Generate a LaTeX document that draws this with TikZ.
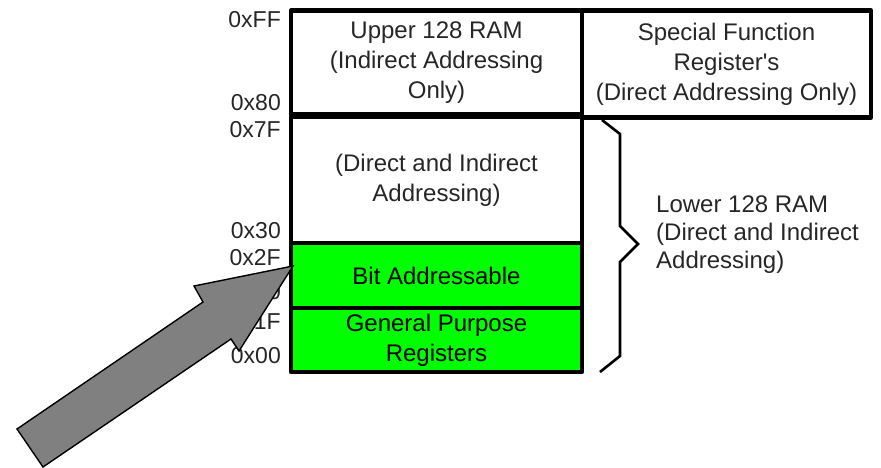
\documentclass[tikz,border=0pt]{standalone}
\usepackage{fontspec}
\setmainfont{Liberation Sans}
\begin{document}
\begin{tikzpicture}[x=1pt,y=-1pt,
  cell/.style={draw=black, line width=4.3pt, line join=round, inner sep=0pt, align=center,
    font=\fontsize{24}{30}\selectfont, text=black!85},
  greencell/.style={cell, fill=green, text=black},
  addr/.style={anchor=east, inner sep=0pt, font=\fontsize{23}{27}\selectfont, text=black!85},
  note/.style={anchor=west, inner sep=0pt, align=left, font=\fontsize{24}{28}\selectfont, text=black!85},
  bigarrow/.style={draw=black, line width=1.4pt, fill=black!50, line join=miter}]
\useasboundingbox (0,0) rectangle (881,468);

% memory map cells
\node[cell, minimum width=291pt, minimum height=104pt] (upper) at (436.5,62.5) {Upper 128 RAM\\(Indirect Addressing\\Only)};
\node[cell, minimum width=289pt, minimum height=107pt] (sfr) at (726.5,64) {Special Function\\Register\textquotesingle s\\(Direct Addressing Only)};
\node[cell, minimum width=291pt, minimum height=126pt] (lower) at (436.5,180) {(Direct and Indirect\\Addressing)};
\node[greencell, minimum width=291pt, minimum height=65pt] (bits) at (436.5,275.5) {Bit Addressable};
\node[greencell, minimum width=291pt, minimum height=64pt] (gpr) at (436.5,340) {General Purpose\\Registers};

% address labels
\node[addr] (aFF) at (281,20) {0xFF};
\node[addr] (a80) at (281,103) {0x80};
\node[addr] (a7F) at (281,130) {0x7F};
\node[addr] (a30) at (281,231) {0x30};
\node[addr] (a2F) at (281,258) {0x2F};
\node[addr] (a20) at (281,292) {0x20};
\node[addr] (a1F) at (281,322) {0x1F};
\node[addr] (a00) at (281,356) {0x00};

% brace grouping the lower 128 bytes
\draw[line width=2.6pt, line join=miter] (602,120) -- (620,134) -- (620,226) -- (638,244)
  -- (620,262) -- (620,356) -- (600,372);
\node[note] (lowlabel) at (656,235) {Lower 128 RAM\\(Direct and Indirect\\Addressing)};

% block arrow pointing at the bit-addressable area
\coordinate (tip) at (293,266);
\draw[bigarrow] (17,429) -- (203,302) -- (194,286) -- (tip) -- (239,351) -- (231,339) -- (43,467) -- cycle;
\end{tikzpicture}
\end{document}
